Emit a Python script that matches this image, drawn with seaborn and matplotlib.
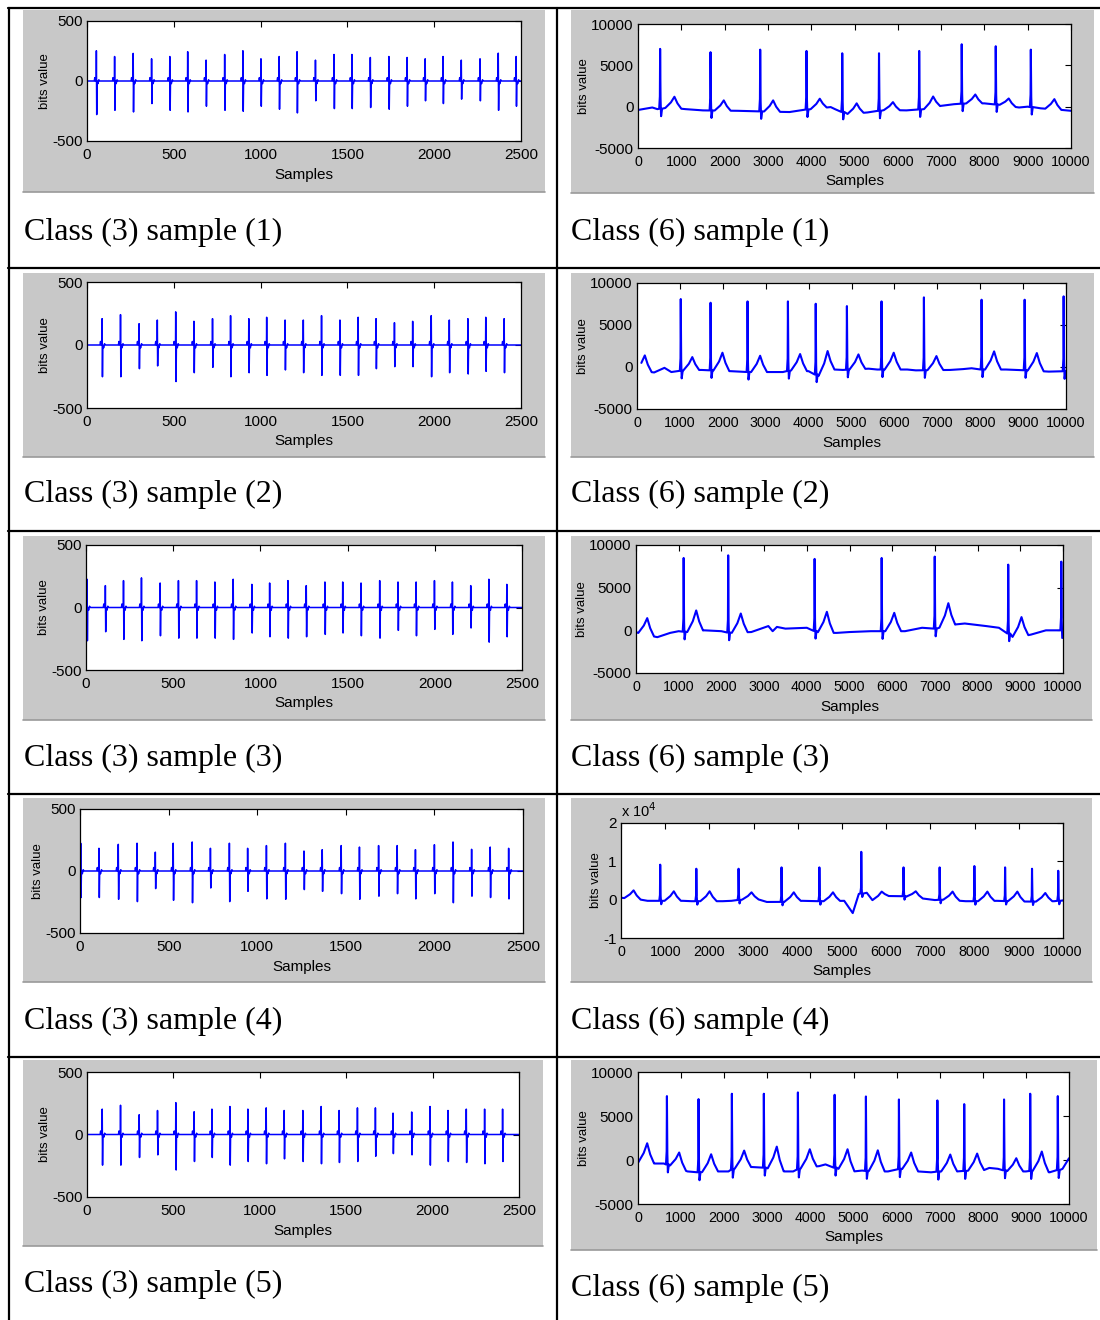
import numpy as np
import pandas as pd
import matplotlib
matplotlib.use("Agg")
import matplotlib.pyplot as plt
from matplotlib import font_manager
from matplotlib.patches import Rectangle
from matplotlib.lines import Line2D
from matplotlib.ticker import FuncFormatter
import seaborn as sns

# ---------------------------------------------------------------- data
# Class 3 records: beat positions (samples), R peak and S trough (bits)
c3_s1_pos = [54, 159, 266, 372, 477, 580, 686, 793, 898, 1002, 1107, 1210, 1316, 1423,
             1526, 1632, 1739, 1844, 1948, 2051, 2156, 2264, 2369, 2472]
c3_s1_r = [252, 204, 230, 185, 204, 244, 174, 221, 252, 185, 204, 244, 174, 221,
           221, 196, 204, 196, 185, 204, 174, 185, 232, 204]
c3_s1_s = [-280, -244, -258, -188, -244, -258, -210, -244, -252, -210, -235, -266, -165, -230,
           -230, -221, -235, -210, -165, -188, -151, -165, -244, -210]

c3_s2_pos = [87, 193, 300, 405, 511, 616, 723, 827, 932, 1035, 1141, 1246, 1351, 1457,
             1562, 1665, 1771, 1876, 1983, 2087, 2194, 2297, 2403]
c3_s2_r = [209, 241, 169, 198, 263, 188, 209, 233, 209, 220, 198, 198, 233, 198,
           220, 209, 177, 188, 233, 198, 209, 220, 209]
c3_s2_s = [-252, -252, -188, -166, -290, -220, -177, -252, -220, -241, -198, -220, -241, -241,
           -241, -188, -172, -172, -252, -220, -230, -209, -220]

c3_s3_pos = [6, 111, 215, 318, 425, 530, 634, 739, 844, 951, 1053, 1158, 1263, 1370,
             1472, 1577, 1684, 1789, 1893, 1998, 2101, 2206, 2310, 2413]
c3_s3_r = [226, 175, 215, 237, 196, 215, 215, 204, 226, 185, 196, 215, 175, 204,
           204, 196, 215, 204, 204, 215, 204, 175, 226, 185]
c3_s3_s = [-266, -194, -255, -266, -226, -245, -245, -245, -255, -204, -234, -245, -234, -215,
           -204, -226, -245, -183, -226, -175, -215, -164, -277, -234]

c3_s4_pos = [4, 107, 216, 322, 425, 526, 633, 736, 843, 946, 1052, 1159, 1264, 1367,
             1474, 1577, 1685, 1790, 1893, 2000, 2105, 2210, 2315, 2419]
c3_s4_r = [224, 183, 215, 224, 152, 224, 234, 183, 224, 183, 205, 224, 161, 172,
           205, 193, 205, 205, 172, 212, 234, 175, 193, 183]
c3_s4_s = [-214, -214, -228, -247, -142, -236, -256, -137, -247, -164, -225, -228, -150, -164,
           -183, -228, -203, -183, -225, -183, -256, -203, -214, -225]

c3_s5_pos = [88, 194, 302, 408, 514, 620, 723, 827, 931, 1037, 1141, 1249, 1355, 1459,
             1565, 1669, 1771, 1879, 1985, 2089, 2195, 2301, 2405]
c3_s5_r = [203, 234, 158, 192, 255, 182, 203, 224, 203, 213, 192, 192, 224, 192,
           213, 213, 171, 180, 224, 192, 203, 203, 203]
c3_s5_s = [-245, -245, -184, -163, -284, -216, -184, -245, -216, -234, -195, -216, -234, -224,
           -216, -174, -153, -163, -245, -216, -224, -234, -216]

# Class 6 records: R peaks, T waves and baseline levels (bits)
c6_s1_rpos = [511, 1675, 2822, 3892, 4717, 5566, 6494, 7476, 8262, 9072]
c6_s1_ramp = [6990, 6590, 6900, 6740, 6460, 6460, 6740, 7550, 7310, 6900]
c6_s1_tpos = [841, 1981, 3121, 4198, 5050, 5888, 6816, 7790, 8562, 9616]
c6_s1_tamp = [1200, 760, 760, 960, 400, 550, 1230, 1470, 990, 910]
c6_s1_bx = [0, 330, 450, 700, 1100, 1500, 2300, 2700, 3000, 3500, 3800, 4450, 4550,
            4850, 5300, 5700, 6200, 6600, 7000, 7300, 7600, 8000, 8400, 8800, 9000, 9300, 9800, 10000]
c6_s1_by = [-400, -100, -300, -100, -300, -450, -500, -550, -600, -650, -400, -50, -300,
            -900, -700, -400, -450, -300, 100, 300, 400, 400, 200, -100, 0, -200, -400, -500]

c6_s2_rpos = [1020, 1715, 2577, 3518, 4166, 4893, 5700, 6688, 8032, 9036, 9945]
c6_s2_ramp = [8090, 7650, 7810, 7810, 7530, 7250, 7810, 8290, 8010, 8010, 8410]
c6_s2_tpos = [182, 1289, 1992, 2870, 3802, 4443, 5162, 5984, 6980, 8324, 9320]
c6_s2_tamp = [1380, 1180, 1700, 1340, 1540, 1900, 1500, 1700, 1300, 1860, 1660]
c6_s2_bx = [0, 400, 640, 800, 1100, 1500, 2200, 2600, 3000, 3400, 3600, 4000, 4250, 4600,
            4800, 5400, 5600, 6300, 6500, 7300, 7600, 7800, 8000, 8600, 9100, 9600, 10000]
c6_s2_by = [-400, -650, -100, -600, -400, -350, -500, -600, -600, -600, -400, -500, -1100, -300,
            -350, -200, -300, -300, -400, -350, -250, -150, -300, -300, -400, -550, -500]

c6_s3_rpos = [1116, 2159, 4183, 5753, 6996, 8717, 9960]
c6_s3_ramp = [8480, 8790, 8370, 8480, 8640, 7700, 8050]
c6_s3_tpos = [263, 1410, 2454, 4470, 6048, 7315, 9028]
c6_s3_tamp = [1430, 2330, 1970, 2170, 2050, 3180, 1550]
c6_s3_bx = [0, 100, 500, 800, 1000, 1200, 1600, 2000, 2200, 2700, 3100, 3200, 3300, 3500,
            4000, 4300, 4700, 5000, 5500, 6300, 6700, 7000, 7500, 7700, 8200, 8500, 8700, 8850,
            9250, 9600, 10000]
c6_s3_by = [-200, -400, -800, -300, -100, -200, 0, -100, -300, -200, 500, -100, 400, 200,
            300, -300, -300, -200, -100, -100, 300, 200, 700, 800, 500, 300, -300, -900,
            -500, 0, 0]

c6_s4_rpos = [887, 1704, 2660, 3632, 4488, 5436, 6392, 7209, 7995, 8690, 9299, 9892]
c6_s4_ramp = [9130, 8070, 8070, 8420, 8420, 12480, 8420, 8420, 8770, 8420, 8070, 7540]
c6_s4_tpos = [285, 1195, 2005, 2953, 3909, 4796, 5898, 6669, 7502, 8289, 8967, 9599]
c6_s4_tamp = [2430, 2180, 2180, 1910, 1910, 1910, 2100, 2180, 2100, 2100, 2100, 1740]
c6_s4_bx = [0, 450, 600, 1400, 1600, 2300, 2500, 2800, 3100, 3300, 3600, 4100, 4400, 4600,
            5050, 5243, 5380, 5560, 5700, 5760, 6050, 6400, 6900, 7100, 7300, 7800, 8100,
            8500, 8800, 9200, 9450, 9800, 10000]
c6_s4_by = [500, 0, -300, -300, -400, -400, -300, 100, 100, -600, -600, -300, -400, -400,
            -300, -3500, 1500, 1800, -300, -1500, 950, 900, 200, -100, 0, -400, -400,
            -300, -400, -500, -500, -400, -200]

c6_s5_rpos = [671, 1405, 2178, 2920, 3710, 4562, 5288, 6054, 6946, 7569, 8493, 9100, 9740]
c6_s5_ramp = [7260, 6920, 7530, 7530, 7680, 7410, 7220, 6880, 6770, 6350, 6880, 7530, 7260]
c6_s5_tpos = [213, 955, 1697, 2463, 3220, 3986, 4862, 5564, 6338, 7245, 7869, 8777, 9369]
c6_s5_tamp = [1900, 850, 650, 1070, 1520, 1220, 1220, 1100, 850, 620, 730, 200, 960]
c6_s5_bx = [0, 400, 600, 800, 1150, 1400, 1800, 2100, 2300, 2650, 2900, 3400, 3600, 3800,
            4200, 4350, 4450, 4650, 5000, 5200, 5450, 5800, 6100, 6200, 6500, 6800, 7000,
            7400, 7700, 8000, 8150, 8350, 8600, 9000, 9200, 9550, 9850, 10000]
c6_s5_by = [-300, -400, -400, -700, -1300, -1400, -1300, -1300, -800, -800, -850, -1300,
            -1300, -900, -700, -500, -700, -1000, -1300, -1200, -1300, -1300, -1000, -1100,
            -1300, -1400, -1300, -1300, -1200, -1200, -900, -1000, -1300, -1300, -1200,
            -1400, -1000, 200]

captions_left = ["Class (3) sample (1)", "Class (3) sample (2)", "Class (3) sample (3)",
                 "Class (3) sample (4)", "Class (3) sample (5)"]
captions_right = ["Class (6) sample (1)", "Class (6) sample (2)", "Class (6) sample (3)",
                  "Class (6) sample (4)", "Class (6) sample (5)"]

c3_xticks = [0, 500, 1000, 1500, 2000, 2500]
c3_yticks = [-500, 0, 500]
c6_xticks = [0, 1000, 2000, 3000, 4000, 5000, 6000, 7000, 8000, 9000, 10000]
c6_yticks = [-5000, 0, 5000, 10000]
c6_s4_yticks = [-10000, 0, 10000, 20000]

# ---------------------------------------------------------------- waveform assembly
# QRS complex template for class 3 beats: (offset in samples, level or marker)
QRS_SHAPE = [(-12, 0), (-9, 28), (-6, 0), (-1, 0), (0, "R"), (2, "S"), (4, 0),
             (9, -22), (14, 10), (19, 0)]


def class3_frame(pos, r, s, n=2500):
    xs, ys = [0], [0]
    for p, rv, sv in zip(pos, r, s):
        for off, lvl in QRS_SHAPE:
            xs.append(p + off)
            ys.append(rv if lvl == "R" else sv if lvl == "S" else lvl)
    xs.append(n)
    ys.append(0)
    df = pd.DataFrame({"sample": xs, "bits": ys}).sort_values("sample", kind="stable")
    return df[(df["sample"] >= 0) & (df["sample"] <= n)]


def class6_frame(bx, by, rpos, ramp, tpos, tamp):
    bx = np.asarray(bx, float)
    by = np.asarray(by, float)
    wave_pts = []
    windows = []
    for p, a in zip(rpos, ramp):
        f = np.interp(p, bx, by)
        wave_pts += [(p - 22, f), (p - 6, f + 1500), (p, a), (p + 10, f + 1200),
                     (p + 22, f - 900), (p + 45, f)]
        windows.append((p - 22, p + 45))
    for t, a in zip(tpos, tamp):
        f0 = np.interp(t - 210, bx, by)
        f1 = np.interp(t + 160, bx, by)
        wave_pts += [(t - 210, f0), (t - 80, f0 + 0.5 * (a - f0)), (t, a),
                     (t + 70, f1 + 0.45 * (a - f1)), (t + 160, f1)]
        windows.append((t - 210, t + 160))
    base_pts = [(x, y) for x, y in zip(bx, by)
                if not any(lo < x < hi for lo, hi in windows)]
    pts = sorted(base_pts + wave_pts, key=lambda q: q[0])
    df = pd.DataFrame(pts, columns=["sample", "bits"])
    return df[(df["sample"] >= 0) & (df["sample"] <= 10000)]


# ---------------------------------------------------------------- styling
sns.set_theme(style="white")
available = {f.name for f in font_manager.fontManager.ttflist}
tick_font = next((f for f in ["Liberation Sans Narrow", "DejaVu Sans Condensed",
                              "Liberation Sans"] if f in available), "DejaVu Sans")
plt.rcParams["font.family"] = [tick_font, "DejaVu Sans"]
plt.rcParams["axes.unicode_minus"] = False
serif_font = "Liberation Serif" if "Liberation Serif" in available else "DejaVu Serif"

W, H = 1100, 1320
fig = plt.figure(figsize=(W / 100, H / 100), dpi=100)
fig.patch.set_facecolor("white")


def fx(x):
    return x / W


def fy(y):
    return 1 - y / H


def add_rect(x0, y0, x1, y1, color):
    fig.patches.append(Rectangle((fx(x0), fy(y1)), fx(x1) - fx(x0), fy(y0) - fy(y1),
                                 transform=fig.transFigure, facecolor=color,
                                 edgecolor="none", zorder=-2))


def add_line(x0, y0, x1, y1, lw=1.6, color="black", z=5):
    fig.lines.append(Line2D([fx(x0), fx(x1)], [fy(y0), fy(y1)], transform=fig.transFigure,
                            color=color, linewidth=lw, zorder=z))


def style_axes(ax, xticks, yticks, xlim, ylim, xsize=11):
    ax.set_xlim(*xlim)
    ax.set_ylim(*ylim)
    ax.set_xticks(xticks)
    ax.set_yticks(yticks)
    ax.set_facecolor("white")
    for sp in ax.spines.values():
        sp.set_visible(True)
        sp.set_color("black")
        sp.set_linewidth(0.9)
    ax.tick_params(direction="in", length=4, width=0.8, top=True, right=True,
                   colors="black")
    ax.tick_params(axis="x", labelsize=xsize, pad=5)
    ax.tick_params(axis="y", labelsize=11, pad=3)
    ax.grid(False)
    ax.set_xlabel("Samples", fontsize=11, color="black", labelpad=4)
    ax.set_ylabel("bits value", fontsize=9.5, color="black", labelpad=1)


# gray figure panels and axes rectangles (pixel boxes)
gray_left = [(23, 10, 545, 192), (23, 273, 545, 457), (23, 536, 545, 720),
             (23, 798, 545, 982), (23, 1060, 543, 1246)]
gray_right = [(571, 10, 1094, 193), (571, 273, 1094, 457), (571, 536, 1092, 720),
              (571, 798, 1092, 982), (571, 1060, 1097, 1250)]
axes_left = [(87, 21, 521, 141), (87, 282, 521, 408), (86, 545, 522, 670),
             (80, 809, 523, 933), (87, 1072, 519, 1197)]
axes_right = [(638, 24, 1071, 148), (637, 283, 1066, 409), (636, 545, 1063, 673),
              (621, 823, 1063, 938), (638, 1072, 1069, 1204)]
cap_y_left = [232, 494, 758, 1021, 1284]
cap_y_right = [232, 494, 758, 1021, 1288]

for g in gray_left + gray_right:
    add_rect(*g, "#c8c8c8")
    add_line(g[0], g[3], g[2], g[3], lw=1.2, color="#9a9a9a", z=-1)

class3_sets = [(c3_s1_pos, c3_s1_r, c3_s1_s), (c3_s2_pos, c3_s2_r, c3_s2_s),
               (c3_s3_pos, c3_s3_r, c3_s3_s), (c3_s4_pos, c3_s4_r, c3_s4_s),
               (c3_s5_pos, c3_s5_r, c3_s5_s)]
class6_sets = [(c6_s1_bx, c6_s1_by, c6_s1_rpos, c6_s1_ramp, c6_s1_tpos, c6_s1_tamp),
               (c6_s2_bx, c6_s2_by, c6_s2_rpos, c6_s2_ramp, c6_s2_tpos, c6_s2_tamp),
               (c6_s3_bx, c6_s3_by, c6_s3_rpos, c6_s3_ramp, c6_s3_tpos, c6_s3_tamp),
               (c6_s4_bx, c6_s4_by, c6_s4_rpos, c6_s4_ramp, c6_s4_tpos, c6_s4_tamp),
               (c6_s5_bx, c6_s5_by, c6_s5_rpos, c6_s5_ramp, c6_s5_tpos, c6_s5_tamp)]


def make_axes(box):
    x0, y0, x1, y1 = box
    return fig.add_axes([fx(x0), fy(y1), fx(x1) - fx(x0), fy(y0) - fy(y1)])


for i in range(5):
    # class 3 column
    ax = make_axes(axes_left[i])
    df = class3_frame(*class3_sets[i])
    sns.lineplot(data=df, x="sample", y="bits", ax=ax, color="#0000ff", linewidth=1.1,
                 estimator=None, sort=False)
    style_axes(ax, c3_xticks, c3_yticks, (0, 2500), (-500, 500))

    # class 6 column
    ax = make_axes(axes_right[i])
    df = class6_frame(*class6_sets[i])
    sns.lineplot(data=df, x="sample", y="bits", ax=ax, color="#0000ff", linewidth=1.5,
                 estimator=None, sort=False)
    if i == 3:
        style_axes(ax, c6_xticks, c6_s4_yticks, (0, 10000), (-10000, 20000), xsize=10.3)
        ax.yaxis.set_major_formatter(FuncFormatter(lambda v, _: f"{v / 1e4:g}"))
        ax.text(0.0, 1.03, r"x 10$^4$", transform=ax.transAxes, fontsize=10.5,
                ha="left", va="bottom", color="black")
    else:
        style_axes(ax, c6_xticks, c6_yticks, (0, 10000), (-5000, 10000), xsize=10.3)

    fig.text(fx(24), fy(cap_y_left[i]), captions_left[i], fontsize=23,
             family=serif_font, ha="left", va="center", color="black")
    fig.text(fx(571), fy(cap_y_right[i]), captions_right[i], fontsize=23,
             family=serif_font, ha="left", va="center", color="black")

# table rules
add_line(8, 8, 1100, 8)
for y in [268, 531, 794, 1057]:
    add_line(8, y, 1100, y)
add_line(9, 8, 9, 1320)
add_line(557, 8, 557, 1320)

fig.savefig("out.png", dpi=100, facecolor="white")
